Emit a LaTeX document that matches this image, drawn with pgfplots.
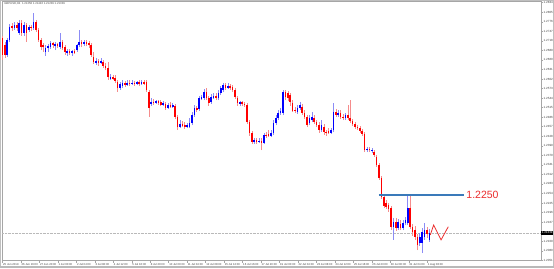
\documentclass[border=0pt]{standalone}
\usepackage{pgfplots}
\pgfplotsset{compat=1.18}
\usepackage{pgfplotstable}
\usepackage{fontspec}
\setmainfont{Liberation Sans}
\definecolor{bull}{RGB}{0,0,255}
\definecolor{bear}{RGB}{255,0,0}
\definecolor{bullwick}{RGB}{140,140,245}
\definecolor{bearwick}{RGB}{245,140,140}
\definecolor{levelblue}{RGB}{58,122,186}
\definecolor{annred}{RGB}{235,45,45}

\pgfplotstableread{
x o h l c
2 1.2675 1.2727 1.2669 1.2721
3 1.2721 1.2769 1.2715 1.2760
5 1.2757 1.2775 1.2751 1.2766
7 1.2742 1.2781 1.2736 1.2772
9 1.2742 1.2775 1.2733 1.2766
11 1.2751 1.2766 1.2745 1.2760
13 1.2757 1.2803 1.2751 1.2775
18 1.2684 1.2705 1.2672 1.2696
19 1.2696 1.2708 1.2684 1.2702
20 1.2699 1.2718 1.2693 1.2711
22 1.2702 1.2715 1.2690 1.2708
24 1.2699 1.2742 1.2693 1.2715
27 1.2681 1.2693 1.2672 1.2687
29 1.2681 1.2690 1.2672 1.2687
31 1.2690 1.2708 1.2684 1.2705
32 1.2705 1.2751 1.2699 1.2715
34 1.2708 1.2721 1.2702 1.2715
39 1.2651 1.2666 1.2645 1.2657
41 1.2651 1.2666 1.2648 1.2657
45 1.2602 1.2617 1.2599 1.2608
49 1.2575 1.2593 1.2569 1.2587
50 1.2581 1.2599 1.2575 1.2590
52 1.2584 1.2599 1.2581 1.2590
54 1.2587 1.2599 1.2584 1.2590
56 1.2587 1.2596 1.2584 1.2593
58 1.2587 1.2599 1.2584 1.2593
62 1.2526 1.2544 1.2520 1.2532
64 1.2529 1.2538 1.2526 1.2535
67 1.2523 1.2535 1.2520 1.2529
69 1.2514 1.2529 1.2511 1.2523
71 1.2517 1.2529 1.2514 1.2523
74 1.2456 1.2477 1.2453 1.2465
77 1.2456 1.2468 1.2453 1.2462
78 1.2456 1.2484 1.2453 1.2468
79 1.2468 1.2502 1.2462 1.2493
80 1.2493 1.2523 1.2487 1.2514
82 1.2511 1.2550 1.2505 1.2544
83 1.2541 1.2553 1.2538 1.2547
84 1.2544 1.2572 1.2538 1.2563
87 1.2532 1.2556 1.2526 1.2547
88 1.2544 1.2560 1.2541 1.2550
90 1.2544 1.2569 1.2538 1.2560
91 1.2560 1.2581 1.2553 1.2575
92 1.2569 1.2590 1.2563 1.2584
94 1.2575 1.2590 1.2572 1.2581
99 1.2526 1.2535 1.2520 1.2532
105 1.2411 1.2423 1.2404 1.2417
107 1.2411 1.2423 1.2407 1.2414
109 1.2407 1.2438 1.2404 1.2432
112 1.2429 1.2447 1.2426 1.2438
113 1.2438 1.2477 1.2432 1.2468
114 1.2468 1.2493 1.2462 1.2484
115 1.2484 1.2508 1.2477 1.2499
116 1.2499 1.2514 1.2493 1.2505
117 1.2499 1.2569 1.2493 1.2563
123 1.2502 1.2523 1.2496 1.2514
124 1.2514 1.2532 1.2508 1.2523
128 1.2468 1.2493 1.2462 1.2484
129 1.2477 1.2502 1.2471 1.2487
133 1.2447 1.2477 1.2441 1.2462
137 1.2438 1.2453 1.2435 1.2447
138 1.2447 1.2529 1.2441 1.2502
140 1.2493 1.2508 1.2487 1.2499
143 1.2484 1.2499 1.2477 1.2493
152 1.2386 1.2395 1.2380 1.2389
154 1.2383 1.2392 1.2377 1.2386
163 1.2152 1.2180 1.2113 1.2167
165 1.2149 1.2176 1.2143 1.2167
167 1.2149 1.2173 1.2143 1.2164
168 1.2164 1.2183 1.2158 1.2173
169 1.2164 1.2250 1.2158 1.2210
174 1.2104 1.2134 1.2094 1.2122
175 1.2104 1.2149 1.2073 1.2137
176 1.2122 1.2164 1.2113 1.2143
178 1.2113 1.2146 1.2107 1.2134
}\bulltable

\pgfplotstableread{
x o h l c
0 1.2727 1.2733 1.2660 1.2675
1 1.2705 1.2715 1.2666 1.2675
4 1.2763 1.2772 1.2748 1.2757
6 1.2766 1.2775 1.2748 1.2757
8 1.2772 1.2781 1.2733 1.2742
10 1.2766 1.2772 1.2715 1.2742
12 1.2760 1.2766 1.2748 1.2757
14 1.2775 1.2781 1.2745 1.2751
15 1.2751 1.2757 1.2715 1.2721
16 1.2721 1.2727 1.2690 1.2699
17 1.2705 1.2711 1.2684 1.2699
21 1.2711 1.2715 1.2696 1.2705
23 1.2708 1.2711 1.2696 1.2702
25 1.2715 1.2721 1.2690 1.2696
26 1.2699 1.2705 1.2675 1.2684
28 1.2687 1.2693 1.2675 1.2681
30 1.2687 1.2693 1.2678 1.2681
33 1.2715 1.2721 1.2699 1.2708
35 1.2715 1.2721 1.2702 1.2708
36 1.2711 1.2718 1.2696 1.2705
37 1.2705 1.2711 1.2669 1.2675
38 1.2669 1.2684 1.2648 1.2654
40 1.2657 1.2663 1.2642 1.2651
42 1.2654 1.2660 1.2635 1.2642
43 1.2642 1.2651 1.2629 1.2635
44 1.2635 1.2654 1.2599 1.2608
46 1.2608 1.2614 1.2599 1.2602
47 1.2605 1.2614 1.2590 1.2596
48 1.2593 1.2599 1.2563 1.2575
51 1.2590 1.2596 1.2578 1.2584
53 1.2590 1.2599 1.2581 1.2587
55 1.2590 1.2596 1.2581 1.2587
57 1.2593 1.2599 1.2581 1.2587
59 1.2593 1.2599 1.2584 1.2587
60 1.2593 1.2599 1.2563 1.2569
61 1.2563 1.2569 1.2487 1.2514
63 1.2532 1.2541 1.2523 1.2529
65 1.2535 1.2538 1.2523 1.2529
66 1.2532 1.2538 1.2520 1.2523
68 1.2526 1.2532 1.2508 1.2514
70 1.2523 1.2532 1.2514 1.2517
72 1.2520 1.2526 1.2480 1.2487
73 1.2487 1.2493 1.2447 1.2456
75 1.2465 1.2474 1.2456 1.2459
76 1.2462 1.2471 1.2450 1.2456
81 1.2514 1.2520 1.2502 1.2508
85 1.2563 1.2575 1.2538 1.2544
86 1.2544 1.2550 1.2520 1.2529
89 1.2550 1.2560 1.2538 1.2544
93 1.2584 1.2590 1.2569 1.2575
95 1.2581 1.2587 1.2569 1.2575
96 1.2578 1.2584 1.2563 1.2569
97 1.2569 1.2575 1.2541 1.2547
98 1.2544 1.2550 1.2520 1.2529
100 1.2532 1.2535 1.2520 1.2526
101 1.2526 1.2532 1.2517 1.2523
102 1.2523 1.2529 1.2465 1.2471
103 1.2471 1.2477 1.2429 1.2438
104 1.2438 1.2444 1.2404 1.2411
106 1.2417 1.2423 1.2404 1.2411
108 1.2414 1.2423 1.2386 1.2407
110 1.2432 1.2441 1.2423 1.2429
111 1.2435 1.2447 1.2426 1.2429
118 1.2563 1.2569 1.2538 1.2547
119 1.2560 1.2566 1.2535 1.2544
120 1.2553 1.2560 1.2520 1.2532
121 1.2529 1.2538 1.2502 1.2505
122 1.2508 1.2517 1.2499 1.2505
125 1.2517 1.2526 1.2493 1.2499
126 1.2499 1.2508 1.2480 1.2487
127 1.2487 1.2493 1.2456 1.2462
130 1.2484 1.2493 1.2465 1.2471
131 1.2471 1.2477 1.2456 1.2462
132 1.2462 1.2471 1.2438 1.2447
134 1.2456 1.2465 1.2432 1.2441
135 1.2441 1.2447 1.2429 1.2438
136 1.2444 1.2453 1.2435 1.2438
139 1.2502 1.2511 1.2487 1.2493
141 1.2499 1.2508 1.2480 1.2487
142 1.2487 1.2496 1.2477 1.2484
144 1.2493 1.2523 1.2477 1.2484
145 1.2484 1.2538 1.2468 1.2474
146 1.2474 1.2480 1.2459 1.2465
147 1.2465 1.2471 1.2450 1.2456
148 1.2456 1.2462 1.2447 1.2453
149 1.2453 1.2459 1.2438 1.2444
150 1.2444 1.2450 1.2429 1.2435
151 1.2435 1.2441 1.2380 1.2386
153 1.2389 1.2395 1.2380 1.2386
155 1.2380 1.2386 1.2365 1.2371
156 1.2365 1.2371 1.2335 1.2341
157 1.2341 1.2347 1.2295 1.2301
158 1.2301 1.2307 1.2237 1.2243
159 1.2243 1.2249 1.2210 1.2216
160 1.2225 1.2234 1.2207 1.2213
161 1.2219 1.2225 1.2198 1.2207
162 1.2210 1.2216 1.2143 1.2152
164 1.2167 1.2180 1.2140 1.2149
166 1.2161 1.2173 1.2143 1.2149
170 1.2210 1.2250 1.2146 1.2152
171 1.2152 1.2161 1.2125 1.2137
172 1.2143 1.2155 1.2113 1.2122
173 1.2122 1.2131 1.2082 1.2097
177 1.2143 1.2152 1.2119 1.2131
}\beartable

\begin{document}
\begin{tikzpicture}
\path[use as bounding box] (0,0) rectangle (554pt,268pt);
\fill[white] (0,0) rectangle (554pt,268pt);
\begin{axis}[
  at={(2pt,7.4pt)}, anchor=south west,
  scale only axis, width=539pt, height=259.6pt,
  xmin=-0.2, xmax=224.57, ymin=1.2050, ymax=1.2839,
  clip mode=individual,
  axis line style={gray!70, line width=0.5pt},
  tick style={gray!70, line width=0.4pt},
  tick align=outside, major tick length=2pt,
  ytick pos=right, yticklabel pos=right,
  xtick pos=bottom, xticklabel pos=bottom,
  ytick={1.2051,1.2080,1.2109,1.2167,1.2196,1.2225,1.2254,1.2283,1.2312,1.2341,1.2370,1.2399,1.2428,1.2457,1.2486,1.2515,1.2544,1.2573,1.2602,1.2631,1.2660,1.2689,1.2718,1.2747,1.2776,1.2805,1.2834},
  yticklabel style={font=\fontsize{3}{3.6}\selectfont, text=black!75, inner sep=0.5pt, /pgf/number format/.cd, fixed, fixed zerofill, precision=4, assume math mode=true},
  scaled y ticks=false,
  xtick={0,7.7,15.4,23.1,30.8,38.5,46.2,53.9,61.6,69.3,77,84.7,92.4,100.1,107.8,115.5,123.2,130.9,138.6,146.3,154,161.7,169.4,177.1},
  xticklabels={25 Jun 2019,26 Jun 16:00,27 Jun 20:00,1 Jul 00:00,2 Jul 04:00,3 Jul 08:00,4 Jul 12:00,5 Jul 16:00,8 Jul 20:00,10 Jul 00:00,11 Jul 04:00,12 Jul 08:00,15 Jul 12:00,16 Jul 16:00,17 Jul 20:00,19 Jul 00:00,22 Jul 04:00,23 Jul 08:00,24 Jul 12:00,25 Jul 16:00,26 Jul 20:00,30 Jul 00:00,31 Jul 04:00,1 Aug 08:00},
  xticklabel style={font=\fontsize{2.8}{3.3}\selectfont, text=black!75, anchor=north west, inner sep=0.5pt},
]
% current price line
\addplot[gray!55, densely dotted, line width=0.4pt, forget plot] coordinates {(-0.2,1.2134) (224.57,1.2134)};
% wicks
\addplot[draw=none, mark=none, forget plot, error bars/.cd, y dir=plus, y explicit, error mark=none,
  error bar style={draw=bullwick, line width=0.5pt}]
  table[x=x, y=l, y error plus expr=\thisrow{h}-\thisrow{l}] {\bulltable};
\addplot[draw=none, mark=none, forget plot, error bars/.cd, y dir=plus, y explicit, error mark=none,
  error bar style={draw=bearwick, line width=0.5pt}]
  table[x=x, y=l, y error plus expr=\thisrow{h}-\thisrow{l}] {\beartable};
% bodies
\addplot[draw=none, mark=none, forget plot, error bars/.cd, y dir=plus, y explicit, error mark=none,
  error bar style={draw=bull, line width=1.6pt}]
  table[x=x, y=o, y error plus expr=\thisrow{c}-\thisrow{o}] {\bulltable};
\addplot[draw=none, mark=none, forget plot, error bars/.cd, y dir=plus, y explicit, error mark=none,
  error bar style={draw=bear, line width=1.6pt}]
  table[x=x, y=c, y error plus expr=\thisrow{o}-\thisrow{c}] {\beartable};
% 1.2250 level
\addplot[levelblue, line width=2pt, forget plot] coordinates {(157.0,1.2250) (192.3,1.2250)};
% projected zigzag
\addplot[annred, line width=0.8pt, forget plot] coordinates {(178.4,1.2128) (179.8,1.2158) (182.9,1.2113) (185.9,1.2153)};
\node[anchor=west, inner sep=0pt, text=annred, font=\fontsize{10.5}{12}\selectfont] at (axis cs:193.4,1.2250) {1.2250};
\node[anchor=north west, inner sep=0.5pt, text=black!70, font=\fontsize{2.8}{3.3}\selectfont] at (rel axis cs:0.003,0.997) {GBPUSD,H4\ \ 1.21258 1.21446 1.21239 1.21339};
\node[anchor=west, fill=black, text=white, inner sep=0.6pt, font=\fontsize{3}{3.6}\selectfont] at (axis cs:224.57,1.2134) {1.21339};
\end{axis}
\draw[gray!50, line width=0.6pt] (0.3pt,0.3pt) rectangle (553.7pt,267.7pt);
\fill[gray!55] (0,0) rectangle (554pt,1.8pt);
\end{tikzpicture}
\end{document}
